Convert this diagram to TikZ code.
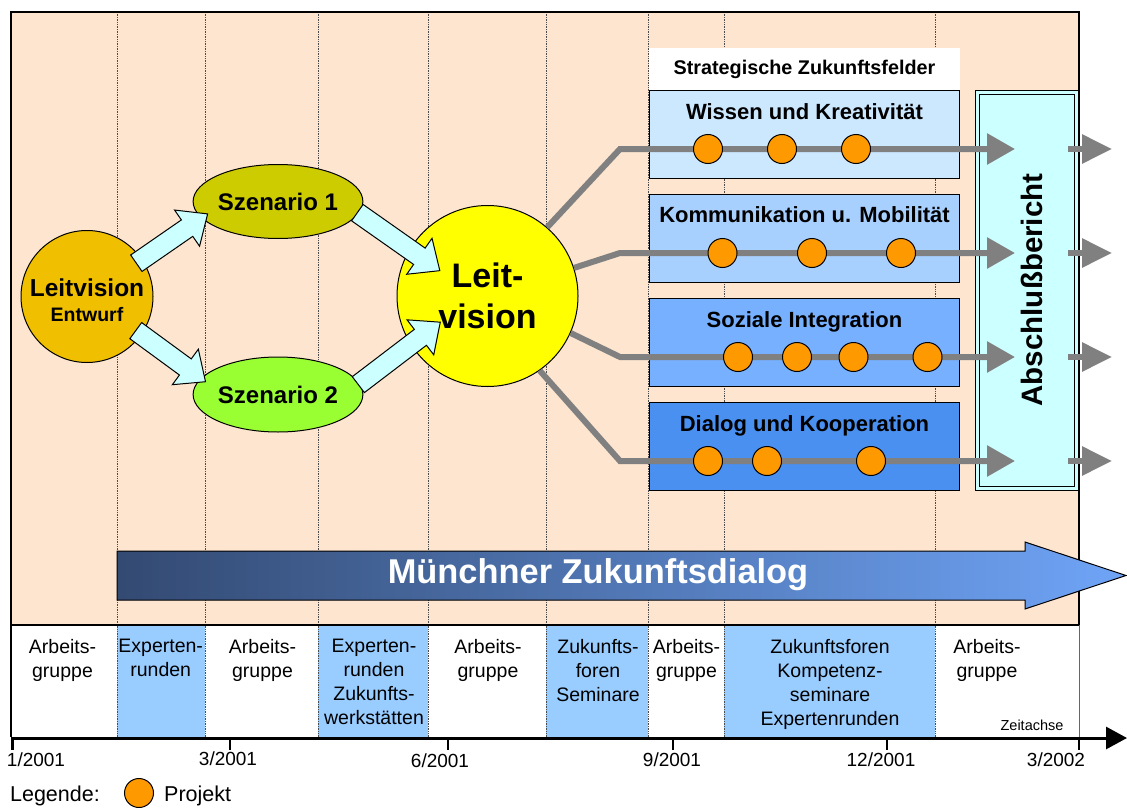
\documentclass[tikz,border=0pt]{standalone}
\usepackage{fontspec}
\setmainfont{Liberation Sans}
\usepackage{xcolor}
\usepackage{tikz}
\usetikzlibrary{arrows.meta}
\usetikzlibrary{positioning, shapes.geometric, calc}
\definecolor{peach}{HTML}{FDE5CF}
\definecolor{phaseblue}{HTML}{99CCFF}
\definecolor{feldA}{HTML}{CCE8FF}
\definecolor{feldB}{HTML}{A8D0FF}
\definecolor{feldC}{HTML}{76B0FF}
\definecolor{feldD}{HTML}{4A90F0}
\definecolor{abcyan}{HTML}{CCFFFF}
\definecolor{linegray}{HTML}{808080}
\definecolor{projektorange}{HTML}{FF9900}
\definecolor{entwurfgold}{HTML}{F0C000}
\definecolor{szenarioA}{HTML}{CCCC00}
\definecolor{szenarioB}{HTML}{99FF33}
\definecolor{leitgelb}{HTML}{FFFF00}
\definecolor{dialogdark}{HTML}{334A72}
\definecolor{dialoglight}{HTML}{6FA4F7}
\tikzset{
feld/.style = { rectangle, draw = black, line width = 1.5pt, minimum width = 310pt, minimum height = 88pt, inner sep = 0pt },
feld title/.style = { anchor = base, inner sep = 0pt, font = \bfseries\fontsize{22}{24}\selectfont },
projekt/.style = { circle, draw = black, line width = 1pt, fill = projektorange, minimum size = 29pt, inner sep = 0pt },
feld line/.style = { draw = linegray, line width = 6pt, -{Triangle[length = 28pt, width = 30pt]} },
phase/.style = { anchor = north, align = center, inner sep = 0pt, font = \fontsize{19.5}{24}\selectfont },
datum/.style = { inner sep = 0pt, font = \fontsize{19}{22}\selectfont },
raster/.style = { densely dotted, line width = 0.7pt, black!70 },
bubble/.style = { draw = black, line width = 1pt, inner sep = 0pt, align = center },
legende/.style = { inner sep = 0pt, text height = 17pt, text depth = 0pt, font = \fontsize{21.5}{24}\selectfont },
}
\tikzset{
pics/block arrow/.style args={#1, #2}{
        code = {
        \path[draw = black, line width = 1pt, fill = abcyan]
          ($(#1)!10pt!90:(#2)$) -- ($(#2)!25pt!(#1)!10pt!-90:(#1)$) -- ($(#2)!25pt!(#1)!22pt!-90:(#1)$) -- (#2)
          -- ($(#2)!25pt!(#1)!22pt!90:(#1)$) -- ($(#2)!25pt!(#1)!10pt!90:(#1)$) -- ($(#1)!10pt!-90:(#2)$) -- cycle;
        }
    }
}
\begin{document}
\begin{tikzpicture}[x = 1pt, y = -1pt]
      \useasboundingbox (0,0) rectangle (1127,808);
      \fill[peach] (11,12) rectangle (1079,625);
      \fill[white] (11,625) rectangle (1079,737);
      \fill[phaseblue] (117,625) rectangle (205,737);
      \fill[phaseblue] (318,625) rectangle (428,737);
      \fill[phaseblue] (546,625) rectangle (648,737);
      \fill[phaseblue] (724,625) rectangle (935,737);
      \draw[raster] (117,12) -- (117,737);
      \draw[raster] (205,12) -- (205,737);
      \draw[raster] (318,12) -- (318,737);
      \draw[raster] (428,12) -- (428,737);
      \draw[raster] (546,12) -- (546,737);
      \draw[raster] (648,12) -- (648,737);
      \draw[raster] (724,12) -- (724,737);
      \draw[raster] (935,12) -- (935,737);
      \draw[line width = 1.5pt] (11,12) rectangle (1079,625);
      \draw[line width = 1.5pt] (11,625) -- (11,737);
      \draw[line width = 0.8pt, black!60] (1079,625) -- (1079,737);
      % Zukunftsdialog
      \shadedraw[left color = dialogdark, right color = dialoglight, draw = black, line width = 1pt]
        (117,551) -- (1025,551) -- (1025,542) -- (1126,575.5) -- (1025,609) -- (1025,600) -- (117,600) -- cycle;
      \node[white, font = \bfseries\fontsize{34.4}{40}\selectfont] (MZ) at (598,575) {Münchner Zukunftsdialog};
      % phases
      \node[phase] (g1) at (62.5,639) {Arbeits-\\gruppe};
      \node[phase] (g2) at (160.7,639) {Experten-\\runden};
      \node[phase] (g3) at (262.5,639) {Arbeits-\\gruppe};
      \node[phase] (g4) at (374,639) {Experten-\\runden\\Zukunfts-\\werkstätten};
      \node[phase] (g5) at (488,639) {Arbeits-\\gruppe};
      \node[phase] (g6) at (598,639) {Zukunfts-\\foren\\Seminare};
      \node[phase] (g7) at (686.5,639) {Arbeits-\\gruppe};
      \node[phase] (g8) at (830,639) {Zukunftsforen\\Kompetenz-\\seminare\\Expertenrunden};
      \node[phase] (g9) at (987,639) {Arbeits-\\gruppe};
      \node[inner sep = 0pt, font = \fontsize{14.5}{16}\selectfont] (za) at (1032,725) {Zeitachse};
      % time axis
      \draw[line width = 3pt, -{Triangle[length = 21pt, width = 22pt]}] (11,738) -- (1127,738);
      \coordinate (t1) at (12.5,738);
      \coordinate (t2) at (230,738);
      \coordinate (t3) at (448,738);
      \coordinate (t4) at (673,738);
      \coordinate (t5) at (887,738);
      \coordinate (t6) at (1079,738);
      \draw[line width = 2.5pt] (t1) -- ++(0,12);
      \draw[line width = 2.5pt] (t2) -- ++(0,12);
      \draw[line width = 2.5pt] (t3) -- ++(0,12);
      \draw[line width = 2.5pt] (t4) -- ++(0,12);
      \draw[line width = 2.5pt] (t5) -- ++(0,12);
      \draw[line width = 2.5pt] (t6) -- ++(0,12);
      \node[datum] (d1) at (36,760) {1/2001};
      \node[datum] (d2) at (228,759) {3/2001};
      \node[datum] (d3) at (440,761) {6/2001};
      \node[datum] (d4) at (672,760) {9/2001};
      \node[datum] (d5) at (881,760) {12/2001};
      \node[datum] (d6) at (1056,760) {3/2002};
      % legend
      \node[projekt] (lg) at (139,793) {};
      \node[legende, left = 24pt of lg] (lgt) {Legende:};
      \node[legende, right = 10pt of lg] (lgp) {Projekt};
      % Zukunftsfelder
      \node[fill = white, minimum width = 311pt, minimum height = 42pt, inner sep = 0pt, font = \bfseries\fontsize{19.8}{22}\selectfont] (SZ) at (804.5,69) {Strategische Zukunftsfelder};
      \node[feld, fill = feldA] (F1) at (804.5,134.5) {};
      \node[feld, fill = feldB] (F2) at (804.5,238.5) {};
      \node[feld, fill = feldC] (F3) at (804.5,342.5) {};
      \node[feld, fill = feldD] (F4) at (804.5,446.5) {};
      \node[feld title] (T1) at ([yshift = -30pt]F1.north) {Wissen und Kreativität};
      \node[feld title] (T2) at ([yshift = -29pt]F2.north) {Kommunikation u. Mobilität};
      \node[feld title] (T3) at ([yshift = -30pt]F3.north) {Soziale Integration};
      \node[feld title] (T4) at ([yshift = -30pt]F4.north) {Dialog und Kooperation};
      \node[rectangle, draw = black, line width = 1.2pt, double = abcyan, double distance = 2.5pt, fill = abcyan, minimum width = 99pt, minimum height = 396pt, inner sep = 0pt] (AB) at (1027,290.5) {};
      \node[rotate = 90, inner sep = 0pt, font = \bfseries\fontsize{29.5}{32}\selectfont] (ABt) at (1032,290) {Abschlußbericht};
      % vision
      \node[bubble, circle, fill = entwurfgold, minimum size = 132pt] (LE) at (87,296.5) {};
      \node[align = center, inner sep = 0pt, font = \bfseries\fontsize{24.5}{25}\selectfont] (LEt) at ([yshift = -4pt]LE.center) {Leitvision\\{\fontsize{19.5}{25}\selectfont Entwurf}};
      \node[bubble, ellipse, fill = szenarioA, minimum width = 147pt, minimum height = 74pt, font = \bfseries\fontsize{24}{26}\selectfont] (S1) at (278,201.5) {Szenario 1};
      \node[bubble, ellipse, fill = szenarioB, minimum width = 147pt, minimum height = 75pt, font = \bfseries\fontsize{24}{26}\selectfont] (S2) at (278,394.5) {Szenario 2};
      \node[bubble, circle, fill = leitgelb, minimum size = 181pt, font = \bfseries\fontsize{34}{41.6}\selectfont] (LV) at (487.5,296) {Leit-\\vision};
      \coordinate (a1s) at ($(LE.34)!7pt!(LE.center)$);
      \coordinate (a1e) at ($(S1.190)!9pt!(S1.center)$);
      \coordinate (a2s) at ($(LE.-35)!7pt!(LE.center)$);
      \coordinate (a2e) at ($(S2.170)!7pt!(S2.center)$);
      \coordinate (a3s) at ($(S1.-8)!2pt!(S1.center)$);
      \coordinate (a3e) at ($(LV.152)!37pt!(LV.center)$);
      \coordinate (a4s) at ($(S2.7)!2pt!(S2.center)$);
      \coordinate (a4e) at ($(LV.209)!37pt!(LV.center)$);
      \pic {block arrow={a1s, a1e}};
      \pic {block arrow={a2s, a2e}};
      \pic {block arrow={a3s, a3e}};
      \pic {block arrow={a4s, a4e}};
      % lines to the fields
      \coordinate (r1) at (620,149);
      \coordinate (r2) at (620,253);
      \coordinate (r3) at (620,357);
      \coordinate (r4) at (620,461);
      \coordinate (e1) at (1015,149);
      \coordinate (e2) at (1015,253);
      \coordinate (e3) at (1015,357);
      \coordinate (e4) at (1015,461);
      \coordinate (f1) at (1112,149);
      \coordinate (f2) at (1112,253);
      \coordinate (f3) at (1112,357);
      \coordinate (f4) at (1112,461);
      \draw[feld line] (LV.49) -- (r1) -- (e1);
      \draw[feld line] (LV.18) -- (r2) -- (e2);
      \draw[feld line] (LV.-24) -- (r3) -- (e3);
      \draw[feld line] (LV.-55) -- (r4) -- (e4);
      \draw[feld line, -{Triangle[length = 30pt, width = 28pt]}] (AB.east |- f1) ++(-9,0) -- (f1);
      \draw[feld line, -{Triangle[length = 30pt, width = 28pt]}] (AB.east |- f2) ++(-9,0) -- (f2);
      \draw[feld line, -{Triangle[length = 30pt, width = 28pt]}] (AB.east |- f3) ++(-9,0) -- (f3);
      \draw[feld line, -{Triangle[length = 30pt, width = 28pt]}] (AB.east |- f4) ++(-9,0) -- (f4);
      % projects
      \node[projekt] (p11) at (708,149) {};
      \node[projekt] (p12) at (782,149) {};
      \node[projekt] (p13) at (856,149) {};
      \node[projekt] (p21) at (722.5,253) {};
      \node[projekt] (p22) at (812,253) {};
      \node[projekt] (p23) at (901,253) {};
      \node[projekt] (p31) at (738,357) {};
      \node[projekt] (p32) at (797,357) {};
      \node[projekt] (p33) at (853.5,357) {};
      \node[projekt] (p34) at (927.5,357) {};
      \node[projekt] (p41) at (708,461) {};
      \node[projekt] (p42) at (767,461) {};
      \node[projekt] (p43) at (871,461) {};
\end{tikzpicture}
\end{document}
